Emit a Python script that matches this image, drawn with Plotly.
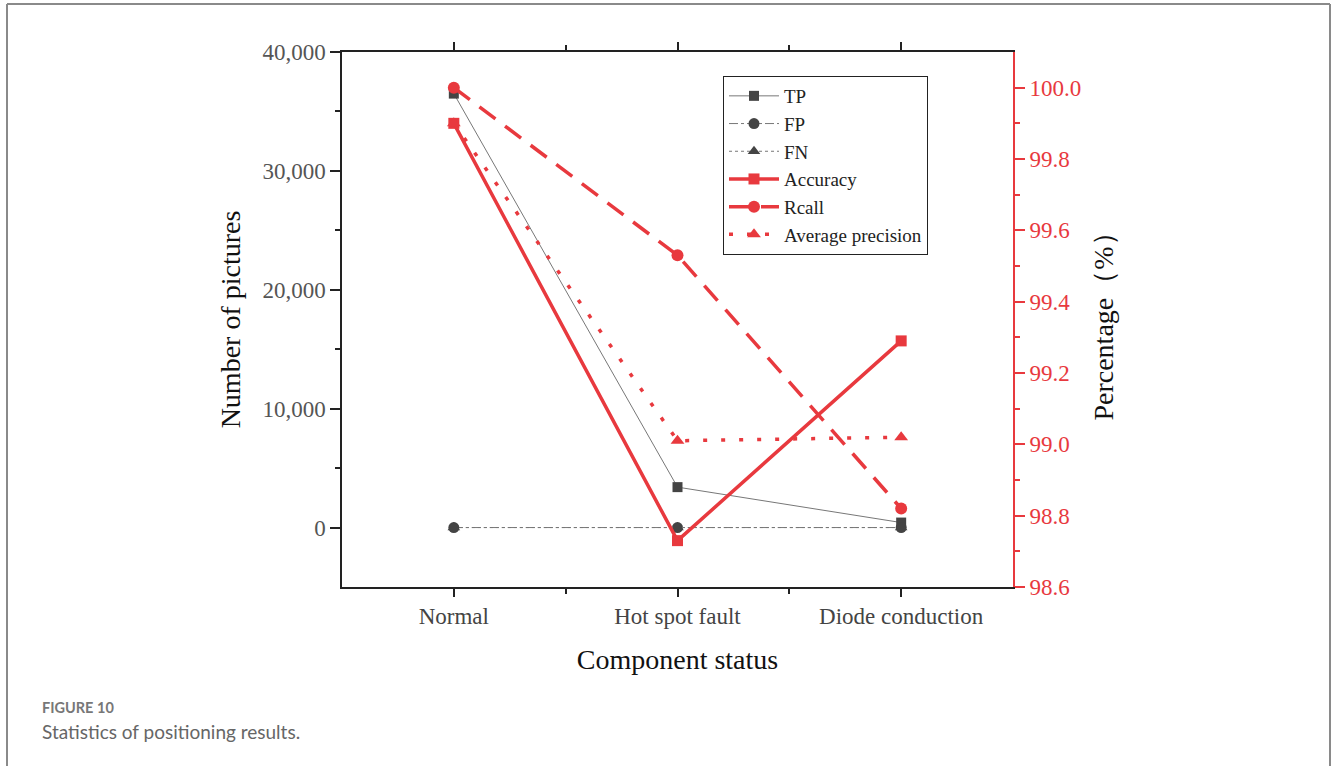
import plotly.graph_objects as go

categories = ["Normal", "Hot spot fault", "Diode conduction"]
tp = [36500, 3400, 420]
fp = [0, 0, 0]
fn = [0, 0, 0]
accuracy = [99.90, 98.73, 99.29]
rcall = [100.0, 99.53, 98.82]
avg_precision = [99.90, 99.01, 99.02]

RED = "#E8393E"
GRAY = "#444444"
SERIF = "Liberation Serif, Times New Roman, serif"

x = list(range(len(categories)))

fig = go.Figure()
fig.add_trace(go.Scatter(x=x, y=tp, name="TP", mode="lines+markers",
                         line=dict(color="#777777", width=1),
                         marker=dict(symbol="square", size=10, color=GRAY)))
fig.add_trace(go.Scatter(x=x, y=fp, name="FP", mode="lines+markers",
                         line=dict(color="#777777", width=1, dash="dashdot"),
                         marker=dict(symbol="circle", size=11, color=GRAY)))
fig.add_trace(go.Scatter(x=x, y=fn, name="FN", mode="lines+markers",
                         line=dict(color="#777777", width=1, dash="dot"),
                         marker=dict(symbol="triangle-up", size=11, color=GRAY)))
fig.add_trace(go.Scatter(x=x, y=accuracy, name="Accuracy", mode="lines+markers", yaxis="y2",
                         line=dict(color=RED, width=3.5),
                         marker=dict(symbol="square", size=11, color=RED)))
fig.add_trace(go.Scatter(x=x, y=rcall, name="Rcall", mode="lines+markers", yaxis="y2",
                         line=dict(color=RED, width=3.5, dash="20px,12px"),
                         marker=dict(symbol="circle", size=12, color=RED)))
fig.add_trace(go.Scatter(x=x, y=avg_precision, name="Average precision", mode="lines+markers", yaxis="y2",
                         line=dict(color=RED, width=3.5, dash="4px,14px"),
                         marker=dict(symbol="triangle-up", size=12, color=RED)))

L, R, T, B = 342, 1013, 52, 587
W, H = 1331, 766
pw, ph = R - L, B - T

def px(v):
    return (v - L) / pw

def py(v):
    return (B - v) / ph

TICKFONT = 23
TITLEFONT = 28

fig.update_layout(
    width=W, height=H, autosize=False,
    margin=dict(l=L, r=W - R, t=T, b=H - B, pad=0),
    paper_bgcolor="white", plot_bgcolor="white",
    showlegend=True,
    legend=dict(x=px(723), y=py(76), xanchor="left", yanchor="top",
                bordercolor="#222222", borderwidth=1, bgcolor="white",
                font=dict(family=SERIF, size=19, color="#222222"),
                tracegroupgap=0, itemwidth=50),
    xaxis=dict(range=[-0.5, 2.5], tickmode="array", tickvals=x, ticktext=categories,
               ticks="outside", ticklen=8, tickwidth=1.5, tickcolor="#222222",
               minor=dict(tickvals=[0.5, 1.5], ticks="outside", ticklen=5, tickcolor="#222222", tickwidth=1.5),
               showline=True, linecolor="#222222", linewidth=1.5, mirror="ticks",
               showgrid=False, zeroline=False,
               tickfont=dict(family=SERIF, size=TICKFONT, color="#444444"),
               title=dict(text="Component status", font=dict(family=SERIF, size=TITLEFONT, color="#111111"), standoff=21)),
    yaxis=dict(range=[-5000, 40000], tickmode="array", tickvals=[0, 10000, 20000, 30000, 40000],
               ticktext=["0", "10,000", "20,000", "30,000", "40,000"],
               ticks="outside", ticklen=10, tickwidth=1.5, tickcolor="#222222",
               minor=dict(tickvals=[5000, 15000, 25000, 35000], ticks="outside", ticklen=5, tickcolor="#222222", tickwidth=1.5),
               showline=True, linecolor="#222222", linewidth=1.5,
               showgrid=False, zeroline=False,
               tickfont=dict(family=SERIF, size=TICKFONT, color="#555555"),
               title=dict(text="Number of pictures", font=dict(family=SERIF, size=TITLEFONT, color="#111111"), standoff=14)),
    yaxis2=dict(range=[98.6, 100.1], overlaying="y", side="right",
                tickmode="array", tickvals=[98.6, 98.8, 99.0, 99.2, 99.4, 99.6, 99.8, 100.0],
                ticktext=["98.6", "98.8", "99.0", "99.2", "99.4", "99.6", "99.8", "100.0"],
                ticks="outside", ticklen=10, tickwidth=1.5, tickcolor=RED,
                minor=dict(tickvals=[98.7, 98.9, 99.1, 99.3, 99.5, 99.7, 99.9], ticks="outside", ticklen=5, tickcolor=RED, tickwidth=1.5),
                showline=True, linecolor=RED, linewidth=2,
                showgrid=False, zeroline=False,
                tickfont=dict(family=SERIF, size=TICKFONT, color=RED),
                title=dict(text="Percentage（%）", font=dict(family=SERIF, size=TITLEFONT, color="#111111"), standoff=13)),
)

# figure frame (top, left, right edges)
frame = dict(xref="paper", yref="paper", line=dict(color="#8a8a8a", width=2))
fig.add_shape(type="line", x0=px(7), x1=px(1330), y0=py(4), y1=py(4), **frame)
fig.add_shape(type="line", x0=px(7), x1=px(7), y0=py(4), y1=py(770), **frame)
fig.add_shape(type="line", x0=px(1330), x1=px(1330), y0=py(4), y1=py(770), **frame)

fig.add_annotation(text="<b>FIGURE 10</b>", xref="paper", yref="paper", x=px(40), y=py(707),
                   xanchor="left", yanchor="middle", showarrow=False,
                   font=dict(family="Lato, Open Sans, sans-serif", size=14.5, color="#777777"))
fig.add_annotation(text="Statistics of positioning results.", xref="paper", yref="paper", x=px(40), y=py(731),
                   xanchor="left", yanchor="middle", showarrow=False,
                   font=dict(family="Lato, Open Sans, sans-serif", size=19, color="#666666"))

fig.write_html("out.html", config={"displayModeBar": False},
               post_script="document.body.style.margin='0';document.body.style.overflow='hidden';")
